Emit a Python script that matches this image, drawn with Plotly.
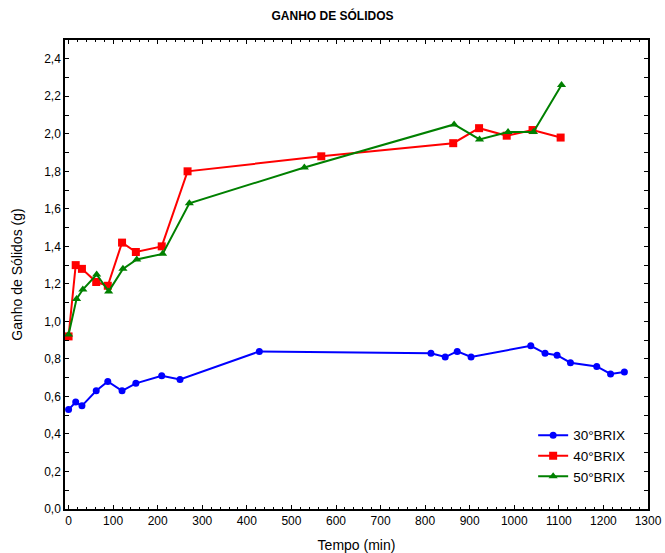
import plotly.graph_objects as go

# Tempo (min) e ganho de sólidos (g) para cada concentração
t_30 = [0, 16, 30, 62, 88, 120, 151, 209, 250, 428, 813, 845, 872, 903, 1037, 1069, 1096, 1126, 1185, 1216, 1247]
g_30 = [0.53, 0.57, 0.55, 0.63, 0.68, 0.63, 0.67, 0.71, 0.69, 0.84, 0.83, 0.81, 0.84, 0.81, 0.87, 0.83, 0.82, 0.78, 0.76, 0.72, 0.73]

t_40 = [0, 16, 30, 62, 88, 120, 151, 209, 267, 567, 863, 921, 983, 1041, 1104]
g_40 = [0.92, 1.30, 1.28, 1.21, 1.19, 1.42, 1.37, 1.40, 1.80, 1.88, 1.95, 2.03, 1.99, 2.02, 1.98]

t_50 = [0, 18, 32, 63, 90, 122, 153, 211, 271, 529, 865, 922, 986, 1043, 1106]
g_50 = [0.93, 1.12, 1.17, 1.25, 1.16, 1.28, 1.33, 1.36, 1.63, 1.82, 2.05, 1.97, 2.01, 2.01, 2.26]

series = [
    ("30°BRIX", t_30, g_30, "#0000ff", "circle", 7),
    ("40°BRIX", t_40, g_40, "#ff0000", "square", 8),
    ("50°BRIX", t_50, g_50, "#008000", "triangle-up", 8),
]

fig = go.Figure()
for name, x, y, color, symbol, size in series:
    fig.add_trace(go.Scatter(
        x=x, y=y, name=name, mode="lines+markers",
        line=dict(color=color, width=2),
        marker=dict(color=color, symbol=symbol, size=size),
    ))

font = "Liberation Sans, Arial, sans-serif"

fig.update_layout(
    width=665, height=553,
    paper_bgcolor="white", plot_bgcolor="white",
    margin=dict(l=65, r=17, t=40, b=44, autoexpand=False),
    separators=",.",
    font=dict(family=font, size=12, color="black"),
    title=dict(text="<b>GANHO DE SÓLIDOS</b>", x=0.5, xanchor="center",
               y=1 - 16 / 553, yanchor="middle", font=dict(size=12)),
    legend=dict(x=0.803, y=0.19, xanchor="left", yanchor="top",
                bgcolor="rgba(0,0,0,0)", borderwidth=0,
                font=dict(size=13.5), tracegroupgap=0, itemwidth=30),
    showlegend=True,
)

fig.update_xaxes(
    range=[-8, 1300], tickmode="linear", tick0=0, dtick=100,
    showgrid=False, zeroline=False, automargin=False,
    showline=True, linecolor="black", linewidth=1.5, mirror="allticks",
    ticks="inside", ticklen=4, tickcolor="black",
    minor=dict(dtick=20, ticks="inside", ticklen=2, tickcolor="black"),
    title=dict(text="Tempo (min)", standoff=18),
)
fig.update_yaxes(
    range=[0, 2.5], tickmode="linear", tick0=0, dtick=0.2, tickformat=".1f",
    showgrid=False, zeroline=False, automargin=False,
    showline=True, linecolor="black", linewidth=1.5, mirror="allticks",
    ticks="inside", ticklen=4, tickcolor="black",
    minor=dict(dtick=0.1, ticks="inside", ticklen=4, tickcolor="black"),
    title=dict(text="Ganho de Sólidos (g)", standoff=18),
)

fig.write_html("out.html")
